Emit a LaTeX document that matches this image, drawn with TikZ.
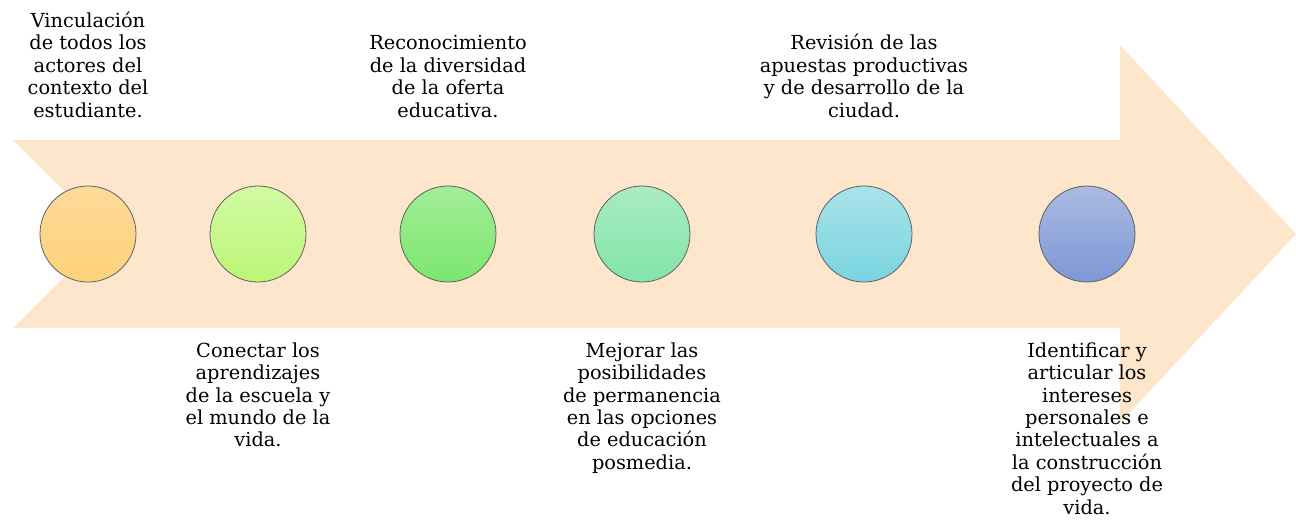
\documentclass[tikz,border=0pt]{standalone}
\usepackage{fontspec}
\setmainfont{DejaVu Serif}
\usetikzlibrary{positioning}
\definecolor{flecha}{RGB}{253,230,204}
\definecolor{borde}{RGB}{95,95,95}
\definecolor{naranjaA}{RGB}{254,218,152}\definecolor{naranjaB}{RGB}{255,210,122}
\definecolor{limaA}{RGB}{210,250,162}\definecolor{limaB}{RGB}{188,246,118}
\definecolor{verdeA}{RGB}{162,238,152}\definecolor{verdeB}{RGB}{124,230,110}
\definecolor{mentaA}{RGB}{170,236,194}\definecolor{mentaB}{RGB}{130,228,168}
\definecolor{cianA}{RGB}{170,226,234}\definecolor{cianB}{RGB}{120,212,224}
\definecolor{azulA}{RGB}{170,186,226}\definecolor{azulB}{RGB}{126,152,212}
\begin{document}
\begin{tikzpicture}[x=0.75pt,y=-0.75pt,
    etapa/.style={circle,draw=borde,line width=0.6pt,minimum size=72pt,inner sep=0pt},
    texto/.style={align=center,inner sep=0pt,font=\fontsize{14.5}{16.8}\selectfont}]
    \useasboundingbox(0,0)rectangle(1296,522);
    \fill[flecha](13,140)--(1120,140)--(1120,45)--(1296,234)--(1120,423)--(1120,328)--(13,328)--(107,234)--cycle;
    \foreach \n/\x/\c in {1/88/naranja,2/258/lima,3/448/verde,4/642/menta,5/864/cian,6/1087/azul}{
        \node[etapa,top color=\c A,bottom color=\c B](c\n)at(\x,234){};
    }
    \node[texto,above=51pt of c1](t1){Vinculación\\de todos los\\actores del\\contexto del\\estudiante.};
    \node[texto,below=45pt of c2](t2){Conectar los\\aprendizajes\\de la escuela y\\el mundo de la\\vida.};
    \node[texto,above=51pt of c3](t3){Reconocimiento\\de la diversidad\\de la oferta\\educativa.};
    \node[texto,below=45pt of c4](t4){Mejorar las\\posibilidades\\de permanencia\\en las opciones\\de educación\\posmedia.};
    \node[texto,above=51pt of c5](t5){Revisión de las\\apuestas productivas\\y de desarrollo de la\\ciudad.};
    \node[texto,below=45pt of c6](t6){Identificar y\\articular los\\intereses\\personales e\\intelectuales a\\la construcción\\del proyecto de\\vida.};
\end{tikzpicture}
\end{document}
